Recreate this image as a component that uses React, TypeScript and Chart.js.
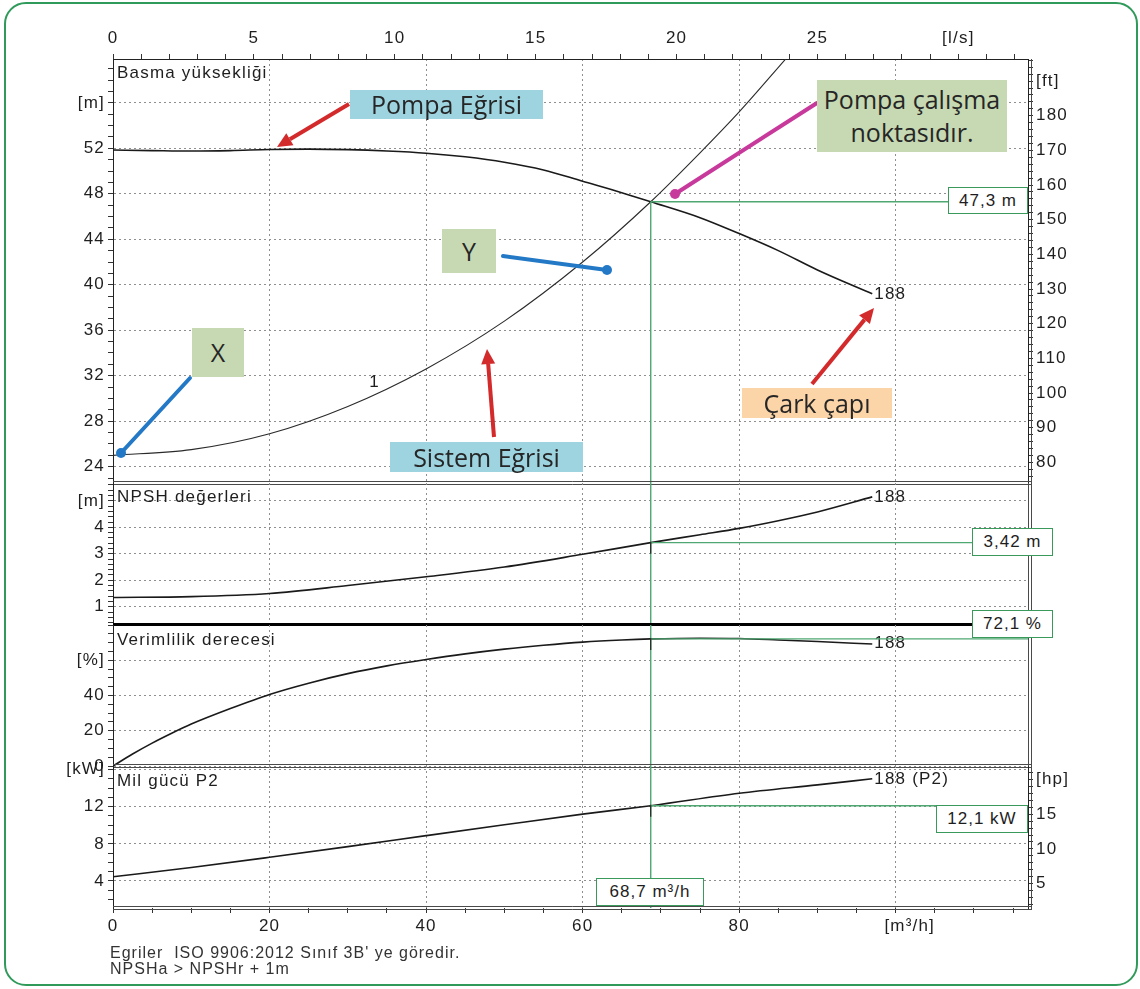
import React, { useEffect, useRef } from "react";
import { Chart, registerables } from "chart.js";

Chart.register(...registerables);

// ---------------- data ----------------
const pumpFlow = [0, 5, 10, 15, 20, 25, 30, 35, 40, 45, 50, 55, 60, 65, 68.7, 75, 80, 85, 90, 97];
const pumpHead = [51.85, 51.8, 51.76, 51.8, 51.9, 51.93, 51.88, 51.76, 51.57, 51.25, 50.78, 50.1, 49.1, 48.1, 47.3, 45.9, 44.5, 43.0, 41.3, 39.2];

const systemFlow = [0, 10, 20, 30, 40, 50, 60, 68.7, 75, 80, 86];
const systemHead = [25.0, 25.5, 26.9, 29.3, 32.6, 36.8, 42.0, 47.3, 51.6, 55.2, 59.9];

const npshFlow = [0, 10, 20, 30, 40, 50, 60, 68.7, 75, 80, 85, 90, 97];
const npshValue = [1.35, 1.38, 1.5, 1.8, 2.13, 2.5, 2.98, 3.42, 3.72, 3.96, 4.25, 4.58, 5.15];

const effFlow = [0, 2.5, 5, 7.5, 10, 15, 20, 25, 30, 35, 40, 45, 50, 55, 60, 65, 68.7, 75, 80, 85, 90, 97];
const effValue = [0, 6.8, 13.0, 18.6, 23.8, 32.6, 40.6, 47, 52.4, 56.8, 60.4, 63.6, 66.3, 68.5, 70.3, 71.5, 72.1, 72.5, 72.3, 71.5, 70.6, 69.2];

const powerFlow = [0, 10, 20, 30, 40, 50, 60, 68.7, 80, 90, 97];
const powerValue = [4.46, 5.45, 6.55, 7.7, 8.88, 10.05, 11.2, 12.1, 13.44, 14.35, 15.0];

const dutyFlow = 68.7;
const dutyHead = 47.3;
const dutyNpsh = 3.42;
const dutyEff = 72.1;
const dutyPower = 12.1;

// tick labels
const flowTickLabels = [0, 20, 40, 60, 80];
const lpsTickLabels = [0, 5, 10, 15, 20, 25];
const headTickLabels = [24, 28, 32, 36, 40, 44, 48, 52];
const ftTickLabels = [80, 90, 100, 110, 120, 130, 140, 150, 160, 170, 180];
const npshTickLabels = [1, 2, 3, 4];
const effTickLabels = [0, 20, 40];
const powerTickLabels = [4, 8, 12];
const hpTickLabels = [5, 10, 15];

// axis ranges
const FLOW_MAX = 116.9;
const LPS_TO_M3H = 3.6;
const M_TO_FT = 3.28084;
const KW_TO_HP = 1.34102;
const HEAD_MIN = 22.567;
const HEAD_MAX = 59.853;
const NPSH_MIN = 0.309;
const NPSH_MAX = 5.674;
const EFF_MIN = 0;
const EFF_MAX = 80;
const POWER_MIN = 1.09;
const POWER_MAX = 16.38;

// ---------------- styling ----------------
const FONT = '"Liberation Sans", Arial, sans-serif';
const FS = 17;
const LS = "1.2px";
const TXT = "#1e1e1e";
const GRID = "#8f8f8f";
const GUIDE = "#4fa772";
const CURVE = "#1a1a1a";

const range = (a: number, b: number, step: number) => {
  const out: number[] = [];
  for (let i = 0; a + i * step <= b + 1e-9; i++) out.push(Math.round((a + i * step) * 1000) / 1000);
  return out;
};
const near = (a: number, b: number) => Math.abs(a - b) < 1e-6;
const inList = (v: number, list: number[]) => list.some((t) => near(t, v));

const fixSize = (size: number) => (s: any) => {
  if (s.isHorizontal()) s.height = size;
  else s.width = size;
  s.paddingTop = 0;
  s.paddingBottom = 0;
  s.paddingLeft = 0;
  s.paddingRight = 0;
};

function yAxis(o: {
  position: "left" | "right";
  min: number;
  max: number;
  ticks: number[];
  labels: number[];
  unitAt: number;
  unit: string;
  grid: boolean;
  width: number;
}) {
  return {
    type: "linear",
    position: o.position,
    min: o.min,
    max: o.max,
    bounds: "data",
    afterBuildTicks: (s: any) => {
      s.ticks = o.ticks.map((v) => ({ value: v }));
    },
    afterFit: fixSize(o.width),
    ticks: {
      autoSkip: false,
      padding: 3,
      color: TXT,
      font: { family: FONT, size: FS },
      callback: (v: number) => (near(v, o.unitAt) ? o.unit : inList(v, o.labels) ? String(v) : ""),
    },
    grid: {
      drawOnChartArea: o.grid,
      drawTicks: true,
      tickLength: 5,
      tickColor: "#333",
      lineWidth: 1,
      color: (c: any) =>
        o.grid && c.tick && (inList(c.tick.value, o.labels) || near(c.tick.value, o.unitAt)) ? GRID : "rgba(0,0,0,0)",
    },
    border: { display: true, color: "#222", width: 1, dash: [2, 3] },
  };
}

function bottomX(show: boolean) {
  return {
    type: "linear",
    position: "bottom",
    min: 0,
    max: FLOW_MAX,
    bounds: "data",
    afterBuildTicks: (s: any) => {
      s.ticks = range(0, 115, 5).map((v) => ({ value: v }));
    },
    afterFit: fixSize(show ? 32 : 0),
    ticks: {
      display: show,
      autoSkip: false,
      maxRotation: 0,
      padding: 3,
      color: TXT,
      font: { family: FONT, size: FS },
      callback: (v: number) => (inList(v, flowTickLabels) ? String(v) : ""),
    },
    grid: {
      drawOnChartArea: true,
      drawTicks: show,
      tickLength: 5,
      tickColor: "#333",
      color: (c: any) => (c.tick && c.tick.value > 0 && c.tick.value % 20 === 0 ? GRID : "rgba(0,0,0,0)"),
    },
    border: { display: false, dash: [2, 3] },
  };
}

function topX() {
  return {
    type: "linear",
    position: "top",
    min: 0,
    max: FLOW_MAX,
    bounds: "data",
    afterBuildTicks: (s: any) => {
      s.ticks = range(0, 32, 1).map((l) => ({ value: l * LPS_TO_M3H }));
    },
    afterFit: fixSize(59),
    ticks: {
      autoSkip: false,
      maxRotation: 0,
      padding: 5,
      color: TXT,
      font: { family: FONT, size: FS },
      callback: (v: number) => {
        const l = Math.round(v / LPS_TO_M3H);
        if (l === 30) return "[l/s]";
        return lpsTickLabels.includes(l) ? String(l) : "";
      },
    },
    grid: { drawOnChartArea: false, tickLength: 5, tickColor: "#333" },
    border: { display: true, color: "#222", width: 1 },
  };
}

const line = (xs: number[], ys: number[], width = 1.6, color = CURVE) => ({
  data: xs.map((x, i) => ({ x, y: ys[i] })),
  borderColor: color,
  borderWidth: width,
  pointRadius: 0,
  fill: false,
  cubicInterpolationMode: "monotone",
  xAxisID: "x",
  yAxisID: "y",
});

type Spec = {
  title: string;
  titleDy: number;
  labels: { text: string; q: number; v: number; dx: number; dy: number }[];
  dutyV: number;
  dutyFromPoint: boolean;
  marker: boolean;
  bottom: "double" | "thick";
  ownRightLine: boolean;
  unitLabel?: { text: string; q: number; dx: number };
};

function overlayPlugin(spec: Spec) {
  return {
    id: "panelOverlay",
    beforeDraw(chart: any) {
      (chart.ctx as any).letterSpacing = LS;
    },
    afterDatasetsDraw(chart: any) {
      const { ctx, chartArea: a, scales } = chart;
      const xs = scales.x;
      const ys = scales.y;
      ctx.save();
      (ctx as any).letterSpacing = LS;
      ctx.font = `${FS}px ${FONT}`;
      ctx.fillStyle = TXT;
      ctx.textBaseline = "middle";
      ctx.textAlign = "left";
      ctx.fillText(spec.title, a.left + 4, a.top + spec.titleDy);
      for (const l of spec.labels) {
        ctx.fillText(l.text, xs.getPixelForValue(l.q) + l.dx, ys.getPixelForValue(l.v) + l.dy);
      }
      const px = xs.getPixelForValue(dutyFlow);
      const py = ys.getPixelForValue(spec.dutyV);
      ctx.strokeStyle = GUIDE;
      ctx.lineWidth = 1.4;
      ctx.beginPath();
      ctx.moveTo(px, spec.dutyFromPoint ? py : a.top);
      ctx.lineTo(px, a.bottom);
      ctx.stroke();
      ctx.beginPath();
      ctx.moveTo(px, py);
      ctx.lineTo(a.right, py);
      ctx.stroke();
      if (spec.marker) {
        ctx.strokeStyle = "#222";
        ctx.lineWidth = 1.2;
        ctx.beginPath();
        ctx.moveTo(px, py - 1);
        ctx.lineTo(px, py + 11);
        ctx.stroke();
      }
      ctx.restore();
    },
    afterDraw(chart: any) {
      const { ctx, chartArea: a, scales } = chart;
      ctx.save();
      if (spec.unitLabel) {
        (ctx as any).letterSpacing = LS;
        ctx.font = `${FS}px ${FONT}`;
        ctx.fillStyle = TXT;
        ctx.textAlign = "center";
        ctx.textBaseline = "top";
        ctx.fillText(spec.unitLabel.text, scales.x.getPixelForValue(spec.unitLabel.q) + spec.unitLabel.dx, a.bottom + 10);
      }
      ctx.strokeStyle = "#4a4a4a";
      ctx.lineWidth = 1;
      ctx.beginPath();
      if (spec.ownRightLine) {
        ctx.moveTo(a.right + 0.5, a.top);
        ctx.lineTo(a.right + 0.5, a.bottom);
      }
      ctx.moveTo(a.right + 3.5, a.top);
      ctx.lineTo(a.right + 3.5, a.bottom + 2);
      ctx.stroke();
      if (spec.bottom === "double") {
        ctx.beginPath();
        ctx.moveTo(a.left, a.bottom - 1.5);
        ctx.lineTo(a.right + 3.5, a.bottom - 1.5);
        ctx.moveTo(a.left, a.bottom + 1.5);
        ctx.lineTo(a.right + 3.5, a.bottom + 1.5);
        ctx.stroke();
      } else {
        ctx.strokeStyle = "#000";
        ctx.lineWidth = 3;
        ctx.beginPath();
        ctx.moveTo(a.left, a.bottom - 0.5);
        ctx.lineTo(a.right + 3.5, a.bottom - 0.5);
        ctx.stroke();
      }
      ctx.restore();
    },
  };
}

function makeChart(canvas: HTMLCanvasElement, datasets: any[], scales: any, padding: any, spec: Spec) {
  return new Chart(canvas, {
    type: "line",
    data: { datasets },
    options: {
      animation: false,
      responsive: false,
      devicePixelRatio: 1,
      events: [],
      layout: { padding },
      plugins: { legend: { display: false }, tooltip: { enabled: false } },
      scales,
    } as any,
    plugins: [overlayPlugin(spec) as any],
  });
}

function Arrow({ x1, y1, x2, y2, color }: { x1: number; y1: number; x2: number; y2: number; color: string }) {
  const ang = Math.atan2(y2 - y1, x2 - x1);
  const head = 15;
  const bx = x2 - head * Math.cos(ang);
  const by = y2 - head * Math.sin(ang);
  const hx = -Math.sin(ang) * 7;
  const hy = Math.cos(ang) * 7;
  return (
    <g>
      <line x1={x1} y1={y1} x2={bx} y2={by} stroke={color} strokeWidth={4} />
      <polygon points={`${x2},${y2} ${bx + hx},${by + hy} ${bx - hx},${by - hy}`} fill={color} />
    </g>
  );
}

function Pointer({ x1, y1, x2, y2, color }: { x1: number; y1: number; x2: number; y2: number; color: string }) {
  return (
    <g>
      <line x1={x1} y1={y1} x2={x2} y2={y2} stroke={color} strokeWidth={4} strokeLinecap="round" />
      <circle cx={x2} cy={y2} r={5} fill={color} />
    </g>
  );
}

const noteFont = '"Open Sans", "Noto Sans", sans-serif';

function Note({ x, y, w, h, bg, children }: any) {
  return (
    <div
      style={{
        position: "absolute",
        left: x,
        top: y,
        width: w,
        height: h,
        background: bg,
        display: "flex",
        alignItems: "center",
        justifyContent: "center",
        textAlign: "center",
        fontFamily: noteFont,
        fontSize: 25,
        lineHeight: "33px",
        color: "#262626",
        whiteSpace: "nowrap",
      }}
    >
      {children}
    </div>
  );
}

function ValueBox({ x, y, w, h, children }: any) {
  return (
    <div
      style={{
        position: "absolute",
        left: x,
        top: y,
        width: w,
        height: h,
        boxSizing: "border-box",
        background: "#fff",
        border: "1.5px solid #3a9a5c",
        display: "flex",
        alignItems: "center",
        justifyContent: "center",
        fontFamily: FONT,
        fontSize: FS,
        letterSpacing: "1px",
        color: TXT,
        whiteSpace: "nowrap",
      }}
    >
      {children}
    </div>
  );
}

export default function App() {
  const r1 = useRef<HTMLCanvasElement>(null);
  const r2 = useRef<HTMLCanvasElement>(null);
  const r3 = useRef<HTMLCanvasElement>(null);
  const r4 = useRef<HTMLCanvasElement>(null);

  useEffect(() => {
    const charts: Chart[] = [];
    charts.push(
      makeChart(
        r1.current!,
        [line(pumpFlow, pumpHead, 1.6), line(systemFlow, systemHead, 1.1, "#2a2a2a")],
        {
          x: bottomX(false),
          xt: topX(),
          y: yAxis({ position: "left", min: HEAD_MIN, max: HEAD_MAX, ticks: range(23, 59, 1), labels: headTickLabels, unitAt: 56, unit: "[m]", grid: true, width: 113 }),
          yr: yAxis({ position: "right", min: HEAD_MIN * M_TO_FT, max: HEAD_MAX * M_TO_FT, ticks: range(76, 196, 2), labels: ftTickLabels, unitAt: 190, unit: "[ft]", grid: false, width: 112 }),
        },
        { top: 0, bottom: 989 - 483, left: 0, right: 0 },
        {
          title: "Basma yüksekliği",
          titleDy: 14,
          labels: [
            { text: "188", q: 97, v: 39.2, dx: 2, dy: 0 },
            { text: "1", q: 33, v: 30.2, dx: -2, dy: -14 },
          ],
          dutyV: dutyHead,
          dutyFromPoint: true,
          marker: false,
          bottom: "double",
          ownRightLine: false,
        }
      )
    );
    charts.push(
      makeChart(
        r2.current!,
        [line(npshFlow, npshValue, 1.6)],
        {
          x: bottomX(false),
          y: yAxis({ position: "left", min: NPSH_MIN, max: NPSH_MAX, ticks: range(0.4, 5.6, 0.2), labels: npshTickLabels, unitAt: 5, unit: "[m]", grid: true, width: 113 }),
        },
        { top: 483, bottom: 989 - 625, left: 0, right: 112 },
        {
          title: "NPSH değerleri",
          titleDy: 14,
          labels: [{ text: "188", q: 97, v: 5.15, dx: 2, dy: 0 }],
          dutyV: dutyNpsh,
          dutyFromPoint: false,
          marker: true,
          bottom: "thick",
          ownRightLine: true,
        }
      )
    );
    charts.push(
      makeChart(
        r3.current!,
        [line(effFlow, effValue, 1.6)],
        {
          x: bottomX(false),
          y: yAxis({ position: "left", min: EFF_MIN, max: EFF_MAX, ticks: range(0, 80, 5), labels: effTickLabels, unitAt: 60, unit: "[%]", grid: true, width: 113 }),
        },
        { top: 625, bottom: 989 - 766, left: 0, right: 112 },
        {
          title: "Verimlilik derecesi",
          titleDy: 15,
          labels: [{ text: "188", q: 97, v: 69.2, dx: 2, dy: -1 }],
          dutyV: dutyEff,
          dutyFromPoint: false,
          marker: true,
          bottom: "double",
          ownRightLine: true,
        }
      )
    );
    charts.push(
      makeChart(
        r4.current!,
        [line(powerFlow, powerValue, 1.6)],
        {
          x: bottomX(true),
          y: yAxis({ position: "left", min: POWER_MIN, max: POWER_MAX, ticks: range(2, 16, 1), labels: powerTickLabels, unitAt: 16, unit: "[kW]", grid: true, width: 113 }),
          yr: yAxis({ position: "right", min: POWER_MIN * KW_TO_HP, max: POWER_MAX * KW_TO_HP, ticks: range(2, 21, 1), labels: hpTickLabels, unitAt: 20, unit: "[hp]", grid: false, width: 112 }),
        },
        { top: 766, bottom: 989 - 908 - 32, left: 0, right: 0 },
        {
          title: "Mil gücü P2",
          titleDy: 15,
          labels: [{ text: "188 (P2)", q: 97, v: 15.0, dx: 2, dy: 0 }],
          dutyV: dutyPower,
          dutyFromPoint: false,
          marker: true,
          bottom: "double",
          ownRightLine: false,
          unitLabel: { text: "[m³/h]", q: 100, dx: 14 },
        }
      )
    );
    return () => charts.forEach((c) => c.destroy());
  }, []);

  const canvasStyle: React.CSSProperties = { position: "absolute", left: 0, top: 0, width: 1140, height: 989 };

  return (
    <div style={{ position: "absolute", left: 0, top: 0, width: 1140, height: 989, background: "#fff", overflow: "hidden" }}>
      <div
        style={{
          position: "absolute",
          left: 4,
          top: 2,
          width: 1134,
          height: 984,
          boxSizing: "border-box",
          border: "2.5px solid #2f9a5a",
          borderRadius: 22,
        }}
      />
      <canvas ref={r1} width={1140} height={989} style={canvasStyle} />
      <canvas ref={r2} width={1140} height={989} style={canvasStyle} />
      <canvas ref={r3} width={1140} height={989} style={canvasStyle} />
      <canvas ref={r4} width={1140} height={989} style={canvasStyle} />

      <svg width={1140} height={989} style={{ position: "absolute", left: 0, top: 0 }}>
        <Arrow x1={349} y1={104} x2={277} y2={147} color="#d32a2c" />
        <Arrow x1={494} y1={437} x2={487} y2={349} color="#d32a2c" />
        <Arrow x1={812} y1={384} x2={874} y2={308} color="#d32a2c" />
        <Pointer x1={817} y1={103} x2={675} y2={194} color="#c8399c" />
        <Pointer x1={503} y1={256} x2={607} y2={270} color="#2379c6" />
        <Pointer x1={190} y1={378} x2={121} y2={453} color="#2379c6" />
      </svg>

      <Note x={350} y={90} w={193} h={29} bg="#9dd4e0">Pompa Eğrisi</Note>
      <Note x={817} y={80} w={190} h={72} bg="#c6d9b2">
        Pompa çalışma
        <br />
        noktasıdır.
      </Note>
      <Note x={442} y={229} w={54} h={44} bg="#c6d9b2">Y</Note>
      <Note x={192} y={328} w={52} h={49} bg="#c6d9b2">X</Note>
      <Note x={742} y={388} w={150} h={30} bg="#fbd4a8">Çark çapı</Note>
      <Note x={390} y={442} w={193} h={30} bg="#9dd4e0">Sistem Eğrisi</Note>

      <ValueBox x={948} y={187} w={80} h={27}>47,3 m</ValueBox>
      <ValueBox x={972} y={528} w={81} h={28}>3,42 m</ValueBox>
      <ValueBox x={972} y={610} w={81} h={28}>72,1 %</ValueBox>
      <ValueBox x={936} y={805} w={92} h={28}>12,1 kW</ValueBox>
      <ValueBox x={596} y={878} w={108} h={28}>68,7 m³/h</ValueBox>

      <div
        style={{
          position: "absolute",
          left: 110,
          top: 945,
          fontFamily: FONT,
          fontSize: 16,
          lineHeight: "16px",
          letterSpacing: "1px",
          color: "#333",
          whiteSpace: "pre",
        }}
      >
        {"Egriler  ISO 9906:2012 Sınıf 3B' ye göredir.\nNPSHa > NPSHr + 1m"}
      </div>
    </div>
  );
}
